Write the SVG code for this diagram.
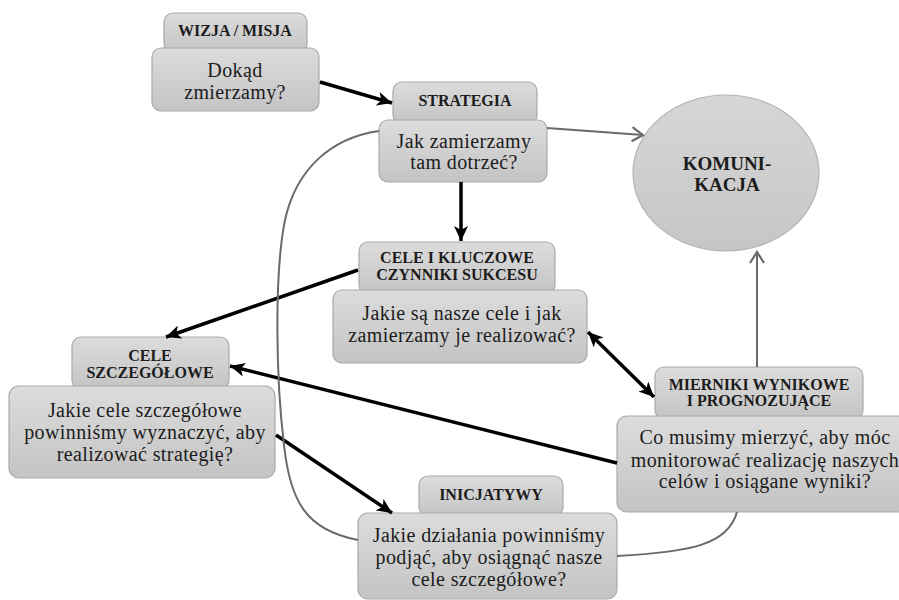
<svg xmlns="http://www.w3.org/2000/svg" width="899" height="600" viewBox="0 0 899 600">
  <defs>
    <linearGradient id="boxFill" x1="0" y1="0" x2="0" y2="1">
      <stop offset="0" stop-color="#dcdcdc"/>
      <stop offset="1" stop-color="#c4c4c4"/>
    </linearGradient>
    <linearGradient id="ellFill" x1="0" y1="0" x2="0" y2="1">
      <stop offset="0" stop-color="#d6d6d6"/>
      <stop offset="1" stop-color="#c6c6c6"/>
    </linearGradient>
    <marker id="blackHead" markerUnits="userSpaceOnUse" markerWidth="16" markerHeight="14" refX="15" refY="7" orient="auto-start-reverse">
      <path d="M0,0 L15,7 L0,14 L4,7 Z" fill="#000"/>
    </marker>
    <marker id="grayHead" markerUnits="userSpaceOnUse" markerWidth="14" markerHeight="16" refX="12" refY="8" orient="auto">
      <path d="M1,1 L12,8 L1,15" fill="none" stroke="#6a6a6a" stroke-width="2.2"/>
    </marker>
  </defs>
  <style>
    .tab, .body { fill: url(#boxFill); stroke: #a9a9a9; stroke-width: 1.2; }
    .ell { fill: url(#ellFill); stroke: #b3b3b3; stroke-width: 1.2; }
    text { font-family: 'Liberation Serif', 'DejaVu Serif', 'Times New Roman', serif; fill: #1c1c1c; text-anchor: middle; }
    .title { font-weight: bold; font-size: 16px; }
    .txt { font-size: 20px; letter-spacing: 0.4px; }
    .big { font-weight: bold; font-size: 19px; }
    .strong { fill: none; stroke: #000; stroke-width: 3.5; }
    .soft { fill: none; stroke: #6a6a6a; stroke-width: 2; }
  </style>

  <!-- nodes -->
  <g id="wizja" font-family="Liberation Serif, serif">
    <rect class="tab" x="164" y="13" width="143" height="40" rx="9"/>
    <rect class="body" x="152" y="48" width="167" height="63" rx="9"/>
    <text class="title" x="235" y="36">WIZJA / MISJA</text>
    <text class="txt" x="235" y="77">Dokąd</text>
    <text class="txt" x="235" y="99">zmierzamy?</text>
  </g>

  <g id="strategia">
    <rect class="tab" x="393" y="82" width="144" height="42" rx="9"/>
    <rect class="body" x="379" y="120" width="168" height="62" rx="9"/>
    <text class="title" x="465" y="106">STRATEGIA</text>
    <text class="txt" x="464" y="148">Jak zamierzamy</text>
    <text class="txt" x="464" y="169">tam dotrzeć?</text>
  </g>

  <g id="cele">
    <rect class="tab" x="359" y="242" width="196" height="52" rx="9"/>
    <rect class="body" x="333" y="290" width="254" height="73" rx="9"/>
    <text class="title" x="457" y="263">CELE I KLUCZOWE</text>
    <text class="title" x="457" y="280">CZYNNIKI SUKCESU</text>
    <text class="txt" x="462" y="320">Jakie są nasze cele i jak</text>
    <text class="txt" x="462" y="342">zamierzamy je realizować?</text>
  </g>

  <g id="cele-szczegolowe">
    <rect class="tab" x="72" y="337" width="157" height="52" rx="9"/>
    <rect class="body" x="9" y="386" width="266" height="92" rx="10"/>
    <text class="title" x="150" y="361">CELE</text>
    <text class="title" x="150" y="378">SZCZEGÓŁOWE</text>
    <text class="txt" x="145" y="417">Jakie cele szczegółowe</text>
    <text class="txt" x="145" y="439">powinniśmy wyznaczyć, aby</text>
    <text class="txt" x="145" y="461">realizować strategię?</text>
  </g>

  <g id="mierniki">
    <rect class="tab" x="655" y="367" width="208" height="52" rx="9"/>
    <rect class="body" x="617" y="416" width="290" height="96" rx="10"/>
    <text class="title" x="759" y="390">MIERNIKI WYNIKOWE</text>
    <text class="title" x="759" y="406">I PROGNOZUJĄCE</text>
    <text class="txt" x="765" y="444">Co musimy mierzyć, aby móc</text>
    <text class="txt" x="765" y="467">monitorować realizację naszych</text>
    <text class="txt" x="765" y="488">celów i osiągane wyniki?</text>
  </g>

  <g id="inicjatywy">
    <rect class="tab" x="419" y="476" width="144" height="40" rx="9"/>
    <rect class="body" x="358" y="513" width="259" height="86" rx="10"/>
    <text class="title" x="491" y="500">INICJATYWY</text>
    <text class="txt" x="489" y="542">Jakie działania powinniśmy</text>
    <text class="txt" x="489" y="564">podjąć, aby osiągnąć nasze</text>
    <text class="txt" x="489" y="586">cele szczegółowe?</text>
  </g>

  <g id="komunikacja">
    <ellipse class="ell" cx="726" cy="173" rx="93" ry="78"/>
    <text class="big" x="727" y="170">KOMUNI-</text>
    <text class="big" x="727" y="191">KACJA</text>
  </g>

  <!-- connectors -->
  <g id="connectors">
    <line class="strong" x1="320" y1="82" x2="392" y2="103" marker-end="url(#blackHead)"/>
    <line class="strong" x1="461" y1="182" x2="461" y2="241" marker-end="url(#blackHead)"/>
    <line class="strong" x1="358" y1="270" x2="166" y2="337" marker-end="url(#blackHead)"/>
    <line class="strong" x1="617" y1="463" x2="230" y2="366" marker-end="url(#blackHead)"/>
    <line class="strong" x1="276" y1="435" x2="392" y2="513" marker-end="url(#blackHead)"/>
    <line class="strong" x1="588" y1="332" x2="654" y2="397" marker-start="url(#blackHead)" marker-end="url(#blackHead)"/>
    <line class="soft" x1="547" y1="128" x2="643" y2="135" marker-end="url(#grayHead)"/>
    <line class="soft" x1="757" y1="367" x2="757" y2="252" marker-end="url(#grayHead)"/>
    <path class="soft" d="M379,131 C330,138 296,170 285,220 C274,275 276,380 284,445 C290,500 305,530 358,540"/>
    <path class="soft" d="M737,512 C728,545 690,552 617,556"/>
  </g>
</svg>
